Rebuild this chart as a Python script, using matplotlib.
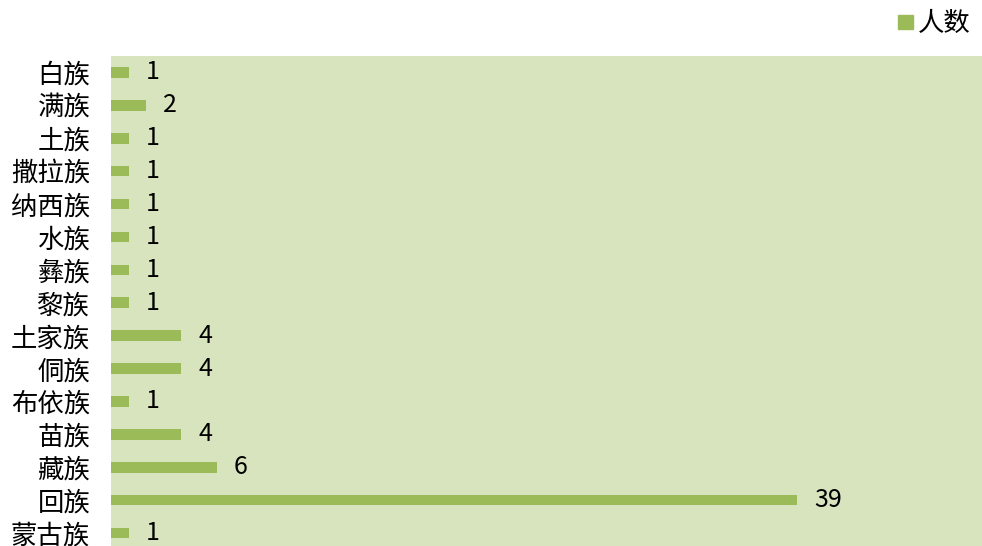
import matplotlib.pyplot as plt
from matplotlib.patches import Patch

plt.rcParams['font.family'] = ['Noto Sans CJK SC', 'DejaVu Sans']

# categories listed top to bottom, as in the picture
groups = ['白族', '满族', '土族', '撒拉族', '纳西族', '水族', '彝族', '黎族',
          '土家族', '侗族', '布依族', '苗族', '藏族', '回族', '蒙古族']
counts = [1, 2, 1, 1, 1, 1, 1, 1, 4, 4, 1, 4, 6, 39, 1]
series_name = '人数'

bar_color = '#9bbb59'
bg_color = '#d7e4bd'

fig = plt.figure(figsize=(9.82, 5.46), dpi=100)
# plot area runs past the bottom edge, as in the source image
ax = fig.add_axes([111 / 982, -3.5 / 546, 871 / 982, 493.5 / 546])
ax.set_facecolor(bg_color)

ypos = list(range(len(groups)))
ax.barh(ypos, counts, height=0.32, color=bar_color)
ax.set_ylim(len(groups) - 0.5, -0.5)
ax.set_xlim(0, 49.5)

ax.set_yticks(ypos)
ax.set_yticklabels(groups, fontsize=19)
ax.tick_params(axis='y', length=0, pad=15)
ax.set_xticks([])
for s in ax.spines.values():
    s.set_visible(False)

for y, v in zip(ypos, counts):
    ax.annotate(str(v), xy=(v, y), xytext=(12, 0), textcoords='offset points',
                ha='left', va='center', fontsize=18)

fig.legend(handles=[Patch(color=bar_color, label=series_name)],
           loc='upper right', bbox_to_anchor=(1.013, 1.025), frameon=False,
           fontsize=19, handlelength=0.55, handleheight=0.42, handletextpad=0.2)

fig.savefig('out.png', dpi=100)
